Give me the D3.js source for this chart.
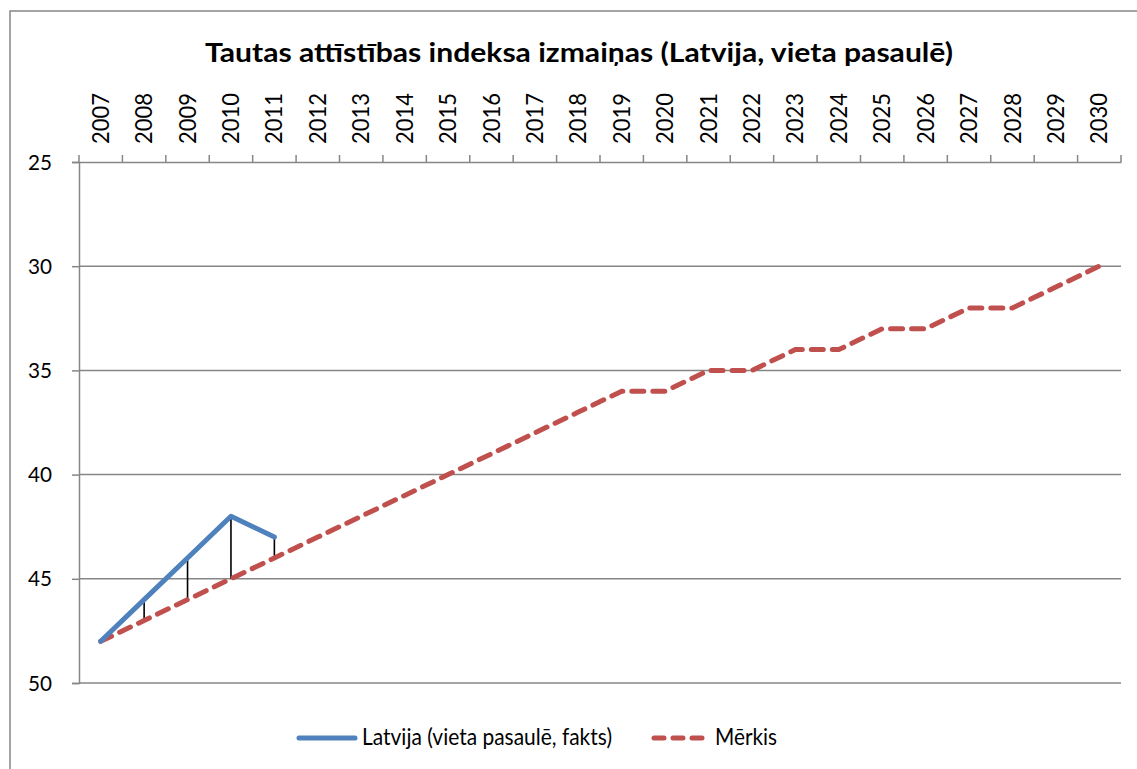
<!DOCTYPE html>
<html><head><meta charset="utf-8">
<script src="https://cdn.jsdelivr.net/npm/d3@7"></script>
<style>body{margin:0;background:#fff}svg{display:block}text{font-family:Lato,"Open Sans",sans-serif}</style>
</head><body><svg id="c" width="1137" height="769"></svg>
<script>
const years = ["2007","2008","2009","2010","2011","2012","2013","2014","2015","2016","2017","2018","2019","2020","2021","2022","2023","2024","2025","2026","2027","2028","2029","2030"];
const latvija = [48,46,44,42,43];
const merkis = [48,47,46,45,44,43,42,41,40,39,38,37,36,36,35,35,34,34,33,33,32,32,31,30];
const yTicks = [25,30,35,40,45,50];
const titleText = "Tautas attīstības indeksa izmaiņas (Latvija, vieta pasaulē)";
const seriesNames = ["Latvija (vieta pasaulē, fakts)","Mērkis"];

const svg = d3.select("#c");
const L=79,R=1121,T=162,B=683;
const x = d3.scaleBand().domain(years).range([L,R]);
const y = d3.scaleLinear().domain([25,50]).range([T,B]);
const cx = d => x(d)+x.bandwidth()/2;

// outer border
svg.append("rect").attr("x",10).attr("y",11).attr("width",1140).attr("height",780)
  .attr("fill","none").attr("stroke","#868686").attr("stroke-width",1.5);

function squeeze(sel,w){sel.attr("textLength",w).attr("lengthAdjust","spacingAndGlyphs");}

const t = svg.append("text").attr("x",579).attr("y",62).attr("text-anchor","middle")
  .attr("font-weight","bold").attr("font-size",26).attr("fill","#000").text(titleText);
squeeze(t,748);

// gridlines
svg.append("g").selectAll("line").data(yTicks.slice(1)).join("line")
  .attr("x1",L).attr("x2",R).attr("y1",d=>y(d)).attr("y2",d=>y(d))
  .attr("stroke","#868686").attr("stroke-width",1.5);

// left axis
const ya = svg.append("g").attr("transform",`translate(${L},0)`)
  .call(d3.axisLeft(y).tickValues(yTicks).tickSize(7).tickPadding(20));
ya.select(".domain").attr("stroke","#868686").attr("stroke-width",1.5);
ya.selectAll(".tick line").attr("stroke","#868686").attr("stroke-width",1.5);
ya.selectAll("text").attr("font-size",22).attr("fill","#000").attr("font-family","Lato,'Open Sans',sans-serif")
  .attr("textLength",24).attr("lengthAdjust","spacingAndGlyphs");

// top axis
const xa = svg.append("g").attr("transform",`translate(0,${T})`)
  .call(d3.axisTop(x).tickSize(0).tickPadding(0));
xa.select(".domain").attr("stroke","#868686").attr("stroke-width",1.5);
xa.selectAll(".tick text").attr("font-size",23).attr("fill","#000").attr("font-family","Lato,'Open Sans',sans-serif")
  .attr("text-anchor","start").attr("transform","translate(0,-18) rotate(-90)").attr("dy","0.35em").attr("x",0).attr("y",0)
  .attr("textLength",51).attr("lengthAdjust","spacingAndGlyphs");
// tick marks at band boundaries
const bounds = years.map(d=>x(d)).concat([R]);
svg.append("g").selectAll("line").data(bounds).join("line")
  .attr("x1",d=>d).attr("x2",d=>d).attr("y1",T-7).attr("y2",T)
  .attr("stroke","#868686").attr("stroke-width",1.5);

// drop lines
svg.append("g").selectAll("line").data(latvija).join("line")
  .attr("x1",(d,i)=>cx(years[i])).attr("x2",(d,i)=>cx(years[i]))
  .attr("y1",d=>y(d)).attr("y2",(d,i)=>y(merkis[i]))
  .attr("stroke","#000").attr("stroke-width",1.6);

const line = d3.line().x(d=>cx(d[0])).y(d=>y(d[1]));
svg.append("path").datum(merkis.map((v,i)=>[years[i],v])).attr("d",line)
  .attr("fill","none").attr("stroke","#C0504D").attr("stroke-width",5)
  .attr("stroke-dasharray","12 9").attr("stroke-linecap","round");
svg.append("path").datum(latvija.map((v,i)=>[years[i],v])).attr("d",line)
  .attr("fill","none").attr("stroke","#4F81BD").attr("stroke-width",5)
  .attr("stroke-linecap","round").attr("stroke-linejoin","round");

// legend
const lg = svg.append("g");
lg.append("line").attr("x1",299).attr("x2",355).attr("y1",738).attr("y2",738)
  .attr("stroke","#4F81BD").attr("stroke-width",5).attr("stroke-linecap","round");
const l1 = lg.append("text").attr("x",362).attr("y",745).attr("font-size",23).attr("fill","#000").text(seriesNames[0]);
squeeze(l1,250);
lg.append("line").attr("x1",654).attr("x2",702).attr("y1",738).attr("y2",738)
  .attr("stroke","#C0504D").attr("stroke-width",5).attr("stroke-dasharray","10 9").attr("stroke-linecap","round");
const l2 = lg.append("text").attr("x",715).attr("y",745).attr("font-size",23).attr("fill","#000").text(seriesNames[1]);
squeeze(l2,62);
</script></body></html>
